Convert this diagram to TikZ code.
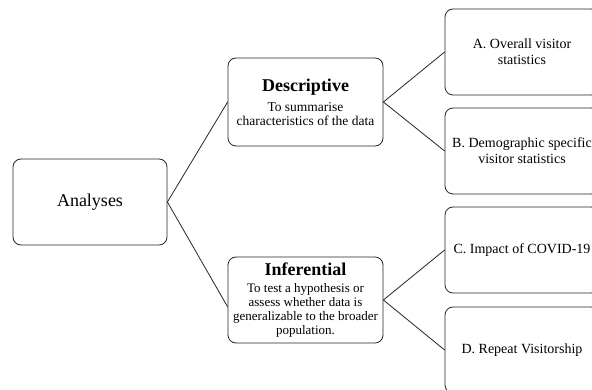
\documentclass[tikz,border=0pt]{standalone}
\usepackage{fontspec}
\setmainfont{Liberation Serif}
\begin{document}
\begin{tikzpicture}[x=1pt,y=-1pt,
  box/.style={draw=black!85, line width=0.8pt, rounded corners=8pt, align=center,
    inner sep=0pt, minimum width=#1, minimum height=86pt},
  box/.default=154pt,
  link/.style={draw=black!85, line width=0.8pt},
  body/.style={font=\fontsize{13.5}{14}\selectfont},
  leaf/.style={box, font=\fontsize{14}{16}\selectfont}]
\useasboundingbox (0,0) rectangle (592,390);
\node[box, font=\fontsize{18}{20}\selectfont] (an) at (90,202) {Analyses};
\node[box=155pt, minimum height=88pt, body] (desc) at (305.5,102)
  {{\fontsize{18}{20}\selectfont\bfseries Descriptive}\\[6pt]
   To summarise\\ characteristics of the data};
\node[box=155pt, body, font=\fontsize{13}{14}\selectfont] (inf) at (305.5,300)
  {{\fontsize{18}{20}\selectfont\bfseries Inferential}\\[3pt]
   To test a hypothesis or\\ assess whether data is\\ generalizable to the broader\\ population.};
\node[leaf] (a) at (522,52) {A. Overall visitor\\ statistics};
\node[leaf] (b) at (522,151) {B. Demographic specific\\ visitor statistics};
\node[leaf] (c) at (522,250) {C. Impact of COVID-19};
\node[leaf] (d) at (522,350) {D. Repeat Visitorship};
\draw[link] (an.east) -- (desc.west);
\draw[link] (an.east) -- (inf.185);
\draw[link] (desc.east) -- (a.west);
\draw[link] (desc.east) -- (b.west);
\draw[link] (inf.east) -- (c.west);
\draw[link] (inf.east) -- (d.west);
\end{tikzpicture}
\end{document}
